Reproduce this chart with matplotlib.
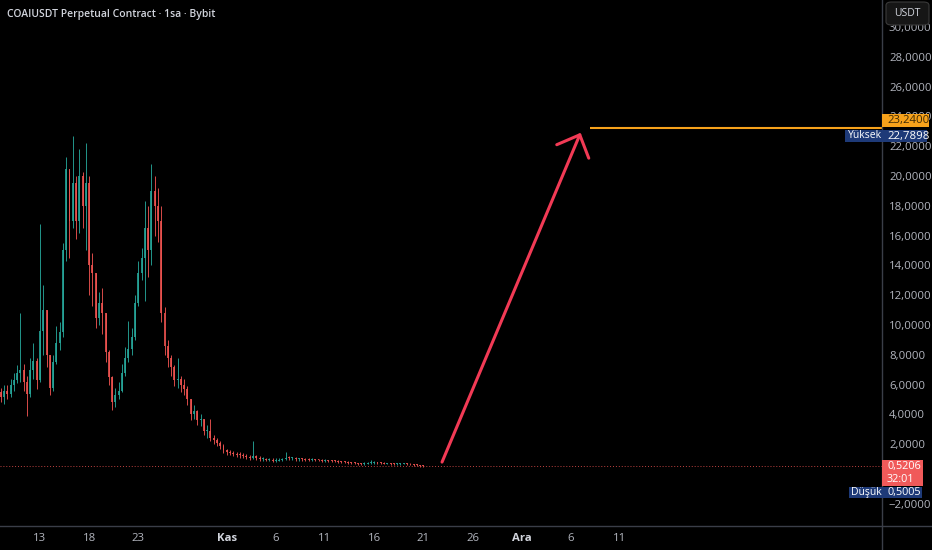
import matplotlib.pyplot as plt
from matplotlib.patches import Rectangle, FancyBboxPatch
from matplotlib.lines import Line2D

W, H = 932, 550

# 8-hour candles, days counted from Oct 13 00:00
START_DAY = -4.0
STEP = 1 / 3
FIRST_OPEN = 5.5

closes = [5.2, 5.6, 5.4, 6.0, 6.3, 6.8, 7.0, 6.2, 5.4, 7.0,
          7.6, 6.3, 9.6, 11.0, 8.0, 5.8, 7.5, 8.8, 9.5, 15.0,
          20.5, 17.0, 19.5, 17.0, 20.0, 18.0, 19.5, 14.0, 13.5, 10.5,
          11.5, 10.8, 8.2, 6.5, 4.8, 5.3, 5.6, 6.8, 7.8, 8.4,
          9.2, 11.5, 13.5, 14.5, 16.5, 15.0, 19.0, 18.0, 17.0, 10.8,
          8.6, 7.8, 7.2, 6.3, 6.4, 6.0, 5.7, 5.0, 4.0, 4.2,
          3.6, 3.7, 2.9, 2.9, 2.4, 2.3, 2.1, 1.9, 1.6, 1.45,
          1.4, 1.35, 1.3, 1.25, 1.2, 1.15, 1.1, 1.2, 1.05, 1.0,
          1.0, 0.95, 0.95, 0.9, 0.9, 0.95, 1.0, 1.1, 1.05, 1.05,
          1.0, 1.0, 0.98, 0.97, 0.95, 0.95, 0.93, 0.92, 0.9, 0.9,
          0.88, 0.86, 0.85, 0.83, 0.8, 0.78, 0.76, 0.74, 0.72, 0.68,
          0.66, 0.7, 0.72, 0.74, 0.76, 0.74, 0.72, 0.7, 0.7, 0.69,
          0.68, 0.68, 0.69, 0.7, 0.68, 0.64, 0.6, 0.58, 0.55, 0.52]
highs = [5.8, 6.0, 6.0, 6.4, 6.8, 7.3, 10.8, 7.4, 6.6, 7.8,
         8.8, 7.8, 16.8, 12.7, 10.5, 8.0, 8.0, 9.9, 10.2, 15.5,
         21.3, 20.5, 22.7, 20.0, 21.8, 20.3, 22.2, 20.0, 14.8, 13.5,
         12.2, 12.5, 10.8, 8.3, 6.6, 5.8, 6.2, 7.4, 8.5, 10.3,
         9.8, 12.0, 14.3, 15.2, 18.3, 18.0, 20.8, 20.0, 19.2, 18.0,
         11.2, 9.0, 8.0, 7.3, 7.8, 6.6, 6.4, 5.9, 5.0, 4.6,
         4.3, 4.0, 3.7, 3.3, 3.7, 2.6, 2.4, 2.2, 2.0, 1.7,
         1.6, 1.55, 1.5, 1.45, 1.4, 1.35, 1.3, 2.2, 1.3, 1.2,
         1.15, 1.1, 1.1, 1.05, 1.05, 1.1, 1.1, 1.45, 1.2, 1.15,
         1.15, 1.1, 1.1, 1.08, 1.05, 1.05, 1.02, 1.0, 1.0, 0.98,
         0.97, 0.95, 0.93, 0.92, 0.9, 0.88, 0.85, 0.82, 0.8, 0.76,
         0.74, 0.78, 0.8, 0.95, 0.85, 0.82, 0.8, 0.78, 0.76, 0.75,
         0.75, 0.74, 0.76, 0.77, 0.76, 0.72, 0.68, 0.64, 0.62, 0.58]
lows = [4.8, 4.7, 5.0, 5.2, 5.6, 6.1, 6.2, 5.6, 3.9, 5.2,
        6.4, 5.7, 6.2, 8.0, 7.2, 5.3, 5.6, 7.4, 8.3, 9.2,
        14.3, 14.5, 16.5, 15.8, 16.2, 16.5, 15.0, 12.0, 11.3, 9.8,
        10.0, 9.4, 7.5, 6.0, 4.3, 4.5, 5.0, 5.5, 6.6, 7.5,
        8.0, 9.0, 11.3, 13.0, 11.6, 13.2, 14.0, 16.0, 15.6, 10.2,
        8.0, 7.2, 6.6, 5.9, 5.8, 5.5, 5.3, 4.6, 3.6, 3.7,
        3.3, 3.2, 2.6, 2.4, 2.2, 2.0, 1.9, 1.7, 1.4, 1.3,
        1.25, 1.2, 1.15, 1.1, 1.05, 1.0, 0.95, 1.0, 0.95, 0.9,
        0.85, 0.85, 0.85, 0.8, 0.8, 0.85, 0.85, 0.95, 0.95, 0.95,
        0.9, 0.9, 0.9, 0.88, 0.87, 0.86, 0.85, 0.84, 0.83, 0.82,
        0.8, 0.78, 0.78, 0.76, 0.74, 0.72, 0.7, 0.68, 0.65, 0.62,
        0.6, 0.62, 0.66, 0.68, 0.7, 0.68, 0.66, 0.64, 0.64, 0.63,
        0.62, 0.62, 0.63, 0.64, 0.62, 0.58, 0.55, 0.53, 0.5, 0.5]

x_tick_days = [0, 5, 10, 19, 24, 29, 34, 39, 44, 49, 54, 59]
x_tick_labels = ['13', '18', '23', 'Kas', '6', '11', '16', '21', '26', 'Ara', '6', '11']
month_labels = ['Kas', 'Ara']
# 0 is hidden behind the last price tag in the reference
y_ticks = [-2, 2, 4, 6, 8, 10, 12, 14, 16, 18, 20, 22, 24, 26, 28, 30]

last_price = 0.5206
countdown = '32:01'
high_price = 22.7898
low_price = 0.5005
target_price = 23.24
arrow_start = (40.9, 0.8)
arrow_end = (55.0, 22.9)
target_start_day = 56.0

UP = '#26a69a'
DOWN = '#ef5350'
TEXT = '#b2b5be'
NAVY = '#1e3a78'
FS = 8.2


def fx(px):
    return px / W


def fy(py):
    return 1 - py / H


def fmt(v):
    s = f'{abs(v):.4f}'.replace('.', ',')
    return ('−' + s) if v < 0 else s


plt.rcParams['font.family'] = ['Open Sans', 'DejaVu Sans']

fig = plt.figure(figsize=(W / 100, H / 100), dpi=100, facecolor='black')
ax = fig.add_axes([0, fy(526), fx(882), 526 / H])
ax.set_facecolor('black')
ax.set_xlim(-4.07, 85.66)
ax.set_ylim(-3.49, 31.81)
for s in ax.spines.values():
    s.set_visible(False)

# candles
opens = [FIRST_OPEN] + closes[:-1]
for i, (o, c, h, l) in enumerate(zip(opens, closes, highs, lows)):
    t = START_DAY + i * STEP
    col = UP if c >= o else DOWN
    hi = max(h, o, c)
    lo = min(l, o, c)
    ax.vlines(t, lo, hi, color=col, lw=0.7, alpha=0.9, zorder=2)
    ax.bar(t, max(abs(c - o), 0.06), bottom=min(o, c), width=0.2,
           color=col, alpha=0.85, linewidth=0, zorder=3)

# current price dotted line
ax.axhline(last_price, color=DOWN, lw=0.7, ls=(0, (1, 2)), alpha=0.8, zorder=1)

# drawing: arrow and target line
ax.annotate('', xy=arrow_end, xytext=arrow_start,
            arrowprops=dict(arrowstyle='->,head_length=1.3,head_width=1.25',
                            color='#f23a55', lw=2.2, shrinkA=0, shrinkB=0,
                            mutation_scale=10, capstyle='round'), zorder=5)
ax.hlines(target_price, target_start_day, 85.66, color='#f7a21b', lw=1.5, zorder=5)

# axes ticks
ax.yaxis.tick_right()
ax.set_yticks(y_ticks)
ax.set_yticklabels([fmt(v) for v in y_ticks])
ax.tick_params(axis='y', length=0, pad=5, labelsize=FS, labelcolor=TEXT)
ax.set_xticks(x_tick_days)
ax.set_xticklabels(x_tick_labels)
ax.tick_params(axis='x', length=0, pad=5, labelsize=FS, labelcolor=TEXT)
for lab in ax.get_xticklabels():
    if lab.get_text() in month_labels:
        lab.set_fontweight('bold')
        lab.set_color('#d1d4dc')

# separators
fig.add_artist(Line2D([0, 1], [fy(526), fy(526)], color='#3a3e48', lw=1))
fig.add_artist(Line2D([fx(882), fx(882)], [0, 1], color='#3a3e48', lw=1))

# title
fig.text(fx(7), fy(14), 'COAIUSDT Perpetual Contract · 1sa · Bybit',
         color='#d1d4dc', fontsize=7.5, fontweight='semibold', va='center', ha='left')


def box(x0, y0, x1, y1, color):
    fig.add_artist(Rectangle((fx(x0), fy(y1)), fx(x1) - fx(x0), fy(y0) - fy(y1),
                             transform=fig.transFigure, facecolor=color,
                             edgecolor='none', zorder=10))


def label(x, y, s, color='white', ha='left', weight='normal', size=FS):
    fig.text(fx(x), fy(y), s, color=color, fontsize=size, ha=ha, va='center',
             fontweight=weight, zorder=11)


# USDT button
fig.add_artist(FancyBboxPatch((fx(886), fy(25)), fx(43), 23 / H,
                              boxstyle='round,pad=0,rounding_size=0.006',
                              transform=fig.transFigure, facecolor='#161616',
                              edgecolor='#3a3a3a', lw=0.8, zorder=10))
label(907.5, 13.5, 'USDT', color='#d1d4dc', ha='center', size=7.5)

# target price label
box(882, 114, 929, 127, '#f7a21b')
label(887, 120.5, fmt(target_price), color='#3d2a05')

# high label
box(845, 130, 882, 142, NAVY)
box(882, 130, 927, 142, NAVY)
label(848, 136, 'Yüksek', size=7.5)
label(887, 136, fmt(high_price))

# last price label
box(882, 460, 923, 486, '#f05a5a')
label(887, 466.5, fmt(last_price), size=7.8)
label(887, 479.5, countdown, size=7.8)

# low label
box(849, 487, 882, 498, NAVY)
box(882, 487, 922, 498, NAVY)
label(851, 492.5, 'Düşük', size=7.5)
label(887, 492.5, fmt(low_price), size=7.8)

fig.savefig('out.png', dpi=100, facecolor='black')
